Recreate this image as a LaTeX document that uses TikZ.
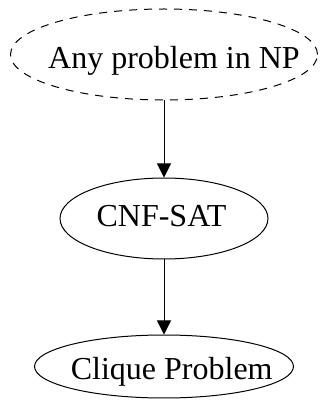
\documentclass[tikz,border=0pt]{standalone}
\usepackage{fontspec}
\setmainfont{Liberation Serif}
\usetikzlibrary{shapes.geometric,arrows.meta}
\tikzset{
  state/.style={draw, ellipse, line width=1pt, inner sep=0pt},
  dashedstate/.style={state, dash pattern=on 8pt off 7pt},
  lbl/.style={anchor=base, inner sep=0pt, font=\fontsize{32}{38}\selectfont},
  edge/.style={line width=1pt, -{Triangle[length=14pt,width=14pt]}}
}
\begin{document}
\begin{tikzpicture}[x=1pt,y=1pt]
  \useasboundingbox (0,0) rectangle (323,402);
  % states
  \node[dashedstate, minimum width=307pt, minimum height=91pt] (np) at (164,347.5) {};
  \node[state, minimum width=208pt, minimum height=81pt] (cnf) at (164,183.5) {};
  \node[state, minimum width=259pt, minimum height=63pt] (clique) at (164,35.5) {};
  % labels
  \node[lbl] (nplbl) at (174,333.7) {Any problem in NP};
  \node[lbl] (cnflbl) at (161.5,175.3) {CNF-SAT};
  \node[lbl] (cliquelbl) at (171.7,22) {Clique Problem};
  % reductions
  \draw[edge] (np.south) -- (cnf.north);
  \draw[edge] (cnf.south) -- (clique.north);
\end{tikzpicture}
\end{document}
